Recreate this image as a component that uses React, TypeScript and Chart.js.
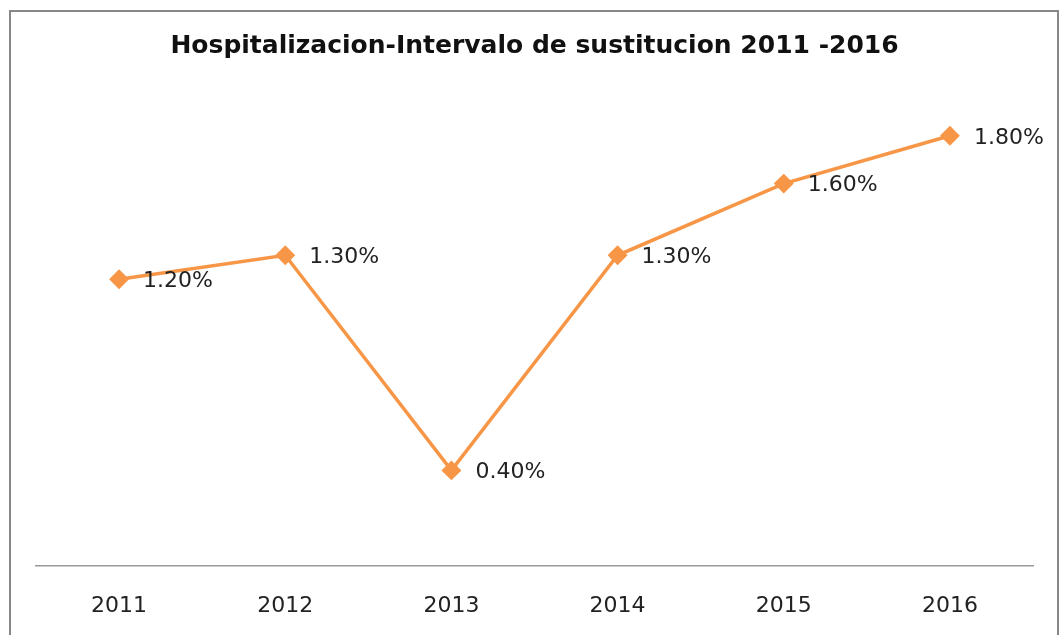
import React, { useEffect, useRef } from "react";
import { Chart, registerables } from "chart.js";

Chart.register(...registerables);

const TITLE = "Hospitalizacion-Intervalo de sustitucion 2011 -2016";
const categories = ["2011", "2012", "2013", "2014", "2015", "2016"];
const values = [1.2, 1.3, 0.4, 1.3, 1.6, 1.8];
const ORANGE = "#F79646";

const framePlugin = {
  id: "frame",
  afterDraw(chart: any) {
    const ctx = chart.ctx;
    ctx.save();
    ctx.strokeStyle = "#878787";
    ctx.lineWidth = 2;
    ctx.strokeRect(10, 11, 1048, 700);
    ctx.restore();
  },
};

const labelPlugin = {
  id: "pointLabels",
  afterDatasetsDraw(chart: any) {
    const ctx = chart.ctx;
    const meta = chart.getDatasetMeta(0);
    ctx.save();
    ctx.font = "22px 'DejaVu Sans'";
    ctx.fillStyle = "#222222";
    ctx.textAlign = "left";
    ctx.textBaseline = "middle";
    meta.data.forEach((pt: any, i: number) => {
      ctx.fillText(values[i].toFixed(2) + "%", pt.x + 24, pt.y + 2);
    });
    ctx.restore();
  },
};

export default function App() {
  const ref = useRef<HTMLCanvasElement>(null);
  useEffect(() => {
    const chart = new Chart(ref.current!, {
      type: "line",
      data: {
        labels: categories,
        datasets: [
          {
            data: values,
            borderColor: ORANGE,
            backgroundColor: ORANGE,
            borderWidth: 3.5,
            pointStyle: "rectRot",
            pointRadius: 7.5,
            pointHoverRadius: 7.5,
            pointBackgroundColor: ORANGE,
            pointBorderColor: ORANGE,
            tension: 0,
          },
        ],
      },
      options: {
        animation: false,
        responsive: false,
        devicePixelRatio: 1,
        layout: { padding: { left: 36, right: 28, top: 0, bottom: -11.4 } },
        plugins: {
          legend: { display: false },
          tooltip: { enabled: false },
          title: {
            display: true,
            text: TITLE,
            color: "#111111",
            font: { family: "'DejaVu Sans'", size: 25, weight: "bold" },
            padding: { top: 31, bottom: 27 },
          },
        },
        scales: {
          x: {
            offset: true,
            grid: { display: false, drawTicks: false, tickLength: 0 },
            border: { display: true, color: "#999999", width: 1.5 },
            ticks: {
              color: "#222222",
              padding: 27,
              font: { family: "'DejaVu Sans'", size: 22 },
            },
          },
          y: {
            display: false,
            min: 0,
            max: 2,
          },
        },
      },
      plugins: [framePlugin, labelPlugin],
    });
    return () => chart.destroy();
  }, []);
  return (
    <div style={{ position: "absolute", left: 0, top: 0, width: 1061, height: 635, background: "#fff" }}>
      <canvas ref={ref} width={1061} height={635} style={{ display: "block" }} />
    </div>
  );
}
